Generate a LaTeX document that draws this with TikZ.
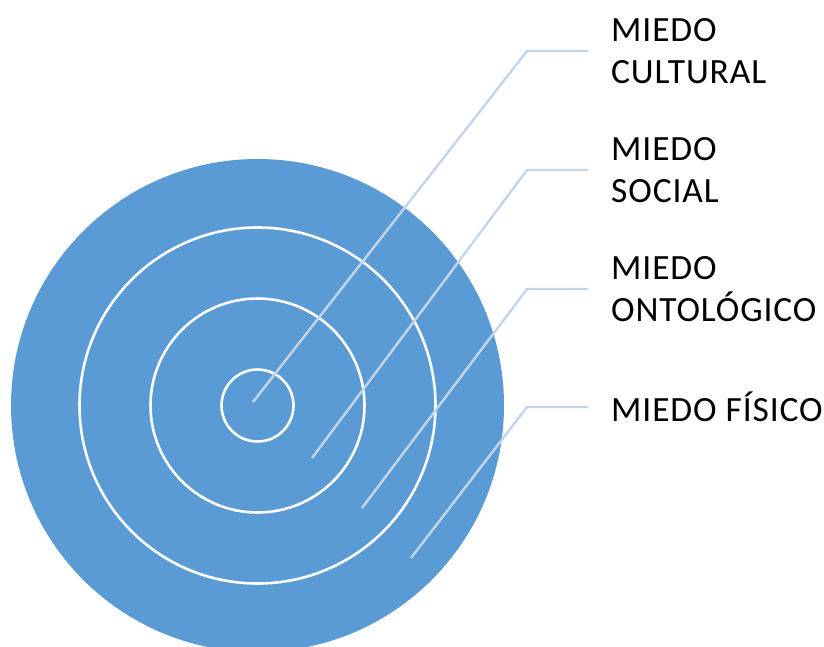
\documentclass[tikz,border=0pt]{standalone}
\usepackage{fontspec}
\setmainfont{Carlito}[LetterSpace=2.5]
\definecolor{fearblue}{HTML}{5B9BD5}
\definecolor{leaderblue}{HTML}{C3D5EB}

\begin{document}
\begin{tikzpicture}[x=1pt,y=-1pt]
				\tikzstyle{ring}=[draw=white,line width=2.6pt]
				\tikzstyle{leader}=[draw=leaderblue,line width=2.4pt]
				\tikzstyle{fear}=[anchor=west,inner xsep=23pt,inner ysep=0pt,align=left,font=\fontsize{35.5}{41.5}\selectfont]
				\useasboundingbox (0,0) rectangle (824,646);
				\coordinate (c) at (257.5,405.5);
				\fill[fearblue] (c) circle (246.5);
				\draw[ring] (c) circle (178);
				\draw[ring] (c) circle (107);
				\draw[ring] (c) circle (36);
				\coordinate (p1) at (253,402);
				\coordinate (p2) at (312,458);
				\coordinate (p3) at (362,508);
				\coordinate (p4) at (411,558);
				\coordinate (e1) at (527,51);
				\coordinate (e2) at (527,170);
				\coordinate (e3) at (527,289);
				\coordinate (e4) at (527,407);
				\node[fear](l1) at (588,51){MIEDO\\CULTURAL};
				\node[fear](l2) at (588,170){MIEDO\\SOCIAL};
				\node[fear](l3) at (588,289){MIEDO\\ONTOLÓGICO};
				\node[fear](l4) at (588,407){MIEDO FÍSICO};
				\draw[leader] (p1) -- (e1) -- (l1.west);
				\draw[leader] (p2) -- (e2) -- (l2.west);
				\draw[leader] (p3) -- (e3) -- (l3.west);
				\draw[leader] (p4) -- (e4) -- (l4.west);
			\end{tikzpicture}
\end{document}
